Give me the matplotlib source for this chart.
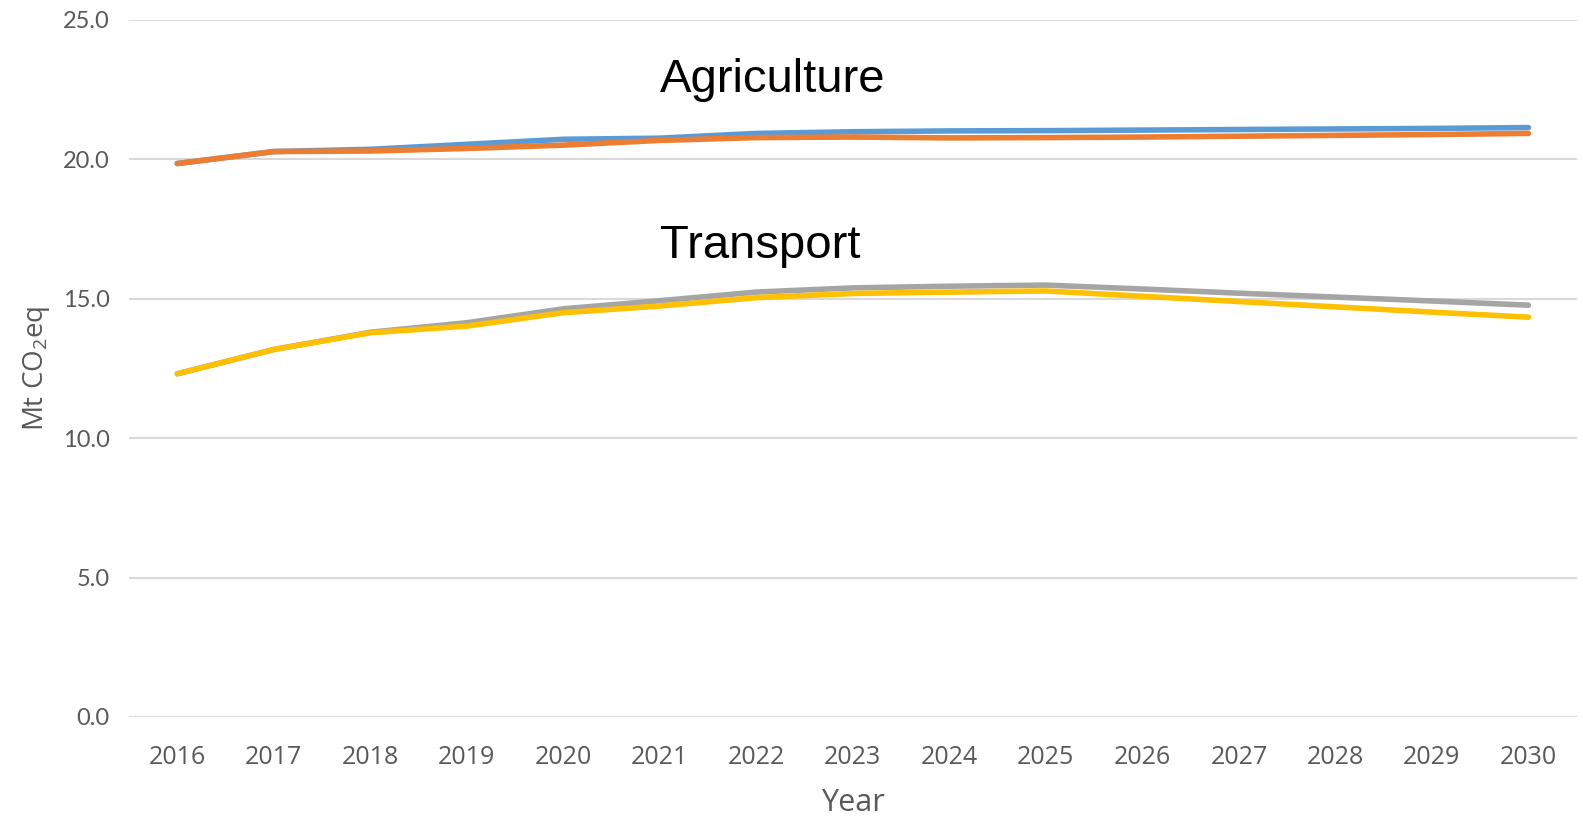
import matplotlib
matplotlib.use("Agg")
import matplotlib.pyplot as plt
import numpy as np

plt.rcParams['mathtext.default'] = 'regular'

# Emission projections, Mt CO2eq
years = list(range(2016, 2031))
agri_a = [19.85, 20.28, 20.36, 20.54, 20.72, 20.76, 20.93, 20.99, 21.02, 21.03,
          21.05, 21.07, 21.09, 21.11, 21.14]
agri_b = [19.85, 20.28, 20.30, 20.39, 20.51, 20.68, 20.78, 20.80, 20.77, 20.78,
          20.80, 20.83, 20.86, 20.89, 20.93]
trans_a = [12.31, 13.18, 13.80, 14.14, 14.64, 14.93, 15.24, 15.39, 15.45, 15.49,
           15.35, 15.20, 15.06, 14.92, 14.77]
trans_b = [12.31, 13.18, 13.78, 14.02, 14.50, 14.74, 15.04, 15.19, 15.24, 15.28,
           15.09, 14.90, 14.71, 14.52, 14.34]
yticks = [0, 5, 10, 15, 20, 25]

fig = plt.figure(figsize=(15.83, 8.21), dpi=100)
ax = fig.add_axes([0.0815, 0.1267, 0.9145, 0.849])

lw = 4.0
ax.plot(years, agri_a, color='#5B9BD5', lw=lw, solid_capstyle='round', zorder=3)
ax.plot(years, agri_b, color='#ED7D31', lw=lw, solid_capstyle='round', zorder=4)
ax.plot(years, trans_a, color='#A5A5A5', lw=lw, solid_capstyle='round', zorder=3)
ax.plot(years, trans_b, color='#FFC000', lw=lw, solid_capstyle='round', zorder=4)

ax.text(2021.0, 22.4, 'Agriculture', fontsize=34, family='Liberation Sans',
        ha='left', va='baseline', color='black')
ax.text(2021.0, 16.45, 'Transport', fontsize=34, family='Liberation Sans',
        ha='left', va='baseline', color='black')

ax.set_xlim(2015.5, 2030.5)
ax.set_ylim(0, 25)
ax.set_xticks(years)
ax.set_xticklabels([str(y) for y in years], fontsize=18, color='#595959',
                   family='Open Sans')
ax.set_yticks(yticks)
ax.set_yticklabels([f'{v:.1f}' for v in yticks], fontsize=17, color='#595959',
                   family='Lato')
ax.tick_params(length=0, pad=14)
ax.tick_params(axis='x', pad=20)
ax.grid(axis='y', color='#D9D9D9', lw=1.5)
ax.set_axisbelow(True)
for s in ax.spines.values():
    s.set_visible(False)

ax.set_xlabel('Year', fontsize=22, color='#595959', family='Open Sans', labelpad=13)
ax.set_ylabel('Mt CO$_2$eq', fontsize=20, color='#595959', family='Open Sans',
              labelpad=8)

fig.savefig('out.png', dpi=100)
